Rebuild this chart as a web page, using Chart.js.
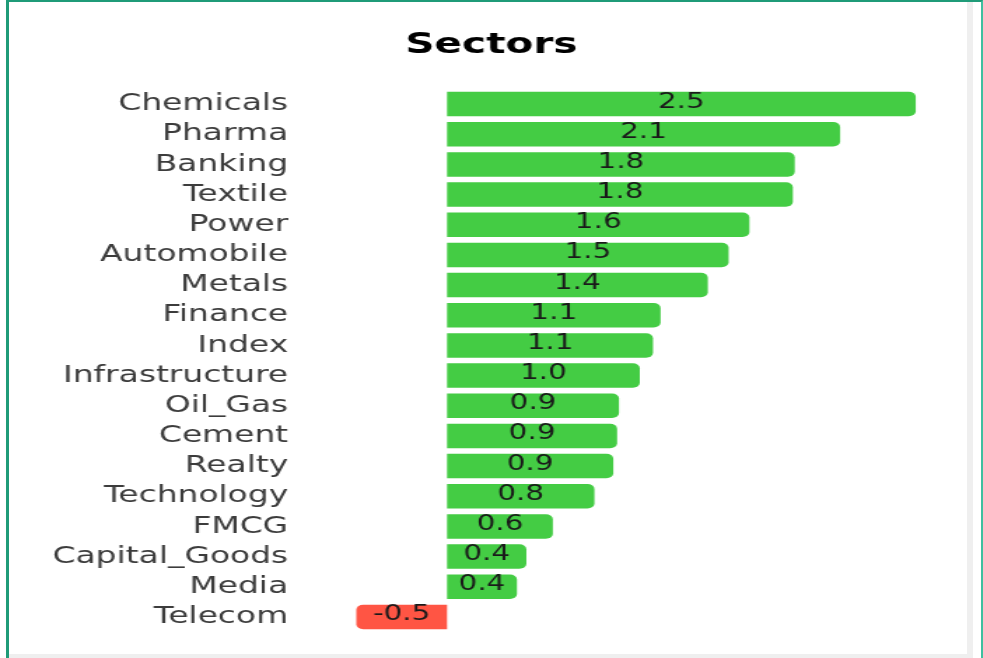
<!DOCTYPE html>
<html><head><meta charset="utf-8">
<script src="https://cdn.jsdelivr.net/npm/chart.js@4.4.0/dist/chart.umd.min.js"></script>
<style>
html,body{margin:0;padding:0;background:#fff;width:983px;height:658px;overflow:hidden;}
#frame{position:absolute;left:6px;top:0;width:977px;height:658px;box-sizing:border-box;border-left:3px solid #1f9b78;border-top:2px solid #1f9b78;border-right:2px solid #3fbf9f;}
#shadowR{position:absolute;left:967px;top:2px;width:6px;height:656px;background:#efefef;}
#shadowB{position:absolute;left:9px;top:654px;width:964px;height:4px;background:#efefef;}
#wrap{position:absolute;left:0;top:0;transform:scaleX(1.4);transform-origin:0 0;}
</style></head>
<body>
<div id="frame"></div><div id="shadowR"></div><div id="shadowB"></div>
<div id="wrap"><canvas id="c" width="702" height="658"></canvas></div>
<script>
const categories = ['Chemicals','Pharma','Banking','Textile','Power','Automobile','Metals','Finance','Index','Infrastructure','Oil_Gas','Cement','Realty','Technology','FMCG','Capital_Goods','Media','Telecom'];
const values = [2.48, 2.08, 1.84, 1.83, 1.60, 1.49, 1.38, 1.13, 1.09, 1.02, 0.91, 0.90, 0.88, 0.78, 0.56, 0.42, 0.37, -0.48];
const chartTitle = 'Sectors';

const POS = '#44cc44', NEG = '#ff5544';
const barColors = values.map(v => v >= 0 ? POS : NEG);

const valueLabels = {
  id: 'valueLabels',
  afterDatasetsDraw(chart) {
    const ctx = chart.ctx;
    const meta = chart.getDatasetMeta(0);
    ctx.save();
    ctx.font = '21px "DejaVu Sans"';
    ctx.fillStyle = '#1a1a1a';
    ctx.textAlign = 'center';
    ctx.textBaseline = 'middle';
    meta.data.forEach((el, i) => {
      const p = el.getProps(['x','y','base'], true);
      ctx.fillText(values[i].toFixed(1), (p.x + p.base) / 2, p.y - 2);
    });
    ctx.restore();
  }
};

new Chart(document.getElementById('c'), {
  type: 'bar',
  data: {
    labels: categories,
    datasets: [{
      data: values,
      backgroundColor: barColors,
      borderRadius: 5,
      barPercentage: 0.9,
      categoryPercentage: 0.9
    }]
  },
  options: {
    indexAxis: 'y',
    responsive: false,
    devicePixelRatio: 1,
    animation: false,
    layout: { padding: { left: 0, right: 0, top: 0, bottom: 26 } },
    plugins: {
      legend: { display: false },
      tooltip: { enabled: false },
      title: {
        display: true,
        text: chartTitle,
        color: '#000',
        font: { family: '"DejaVu Sans"', size: 29, weight: 'bold' },
        padding: { top: 28, bottom: 26.2 }
      }
    },
    scales: {
      x: { display: false, min: -0.5, max: 2.835 },
      y: {
        grid: { display: false, drawTicks: true, tickLength: 46 },
        border: { display: false },
        ticks: { autoSkip: false, color: '#3c3c3c', padding: 0, font: { family: '"DejaVu Sans"', size: 23.5 } },
        afterFit(scale) { scale.width = 251.8; }
      }
    }
  },
  plugins: [valueLabels]
});
</script>
</body></html>
